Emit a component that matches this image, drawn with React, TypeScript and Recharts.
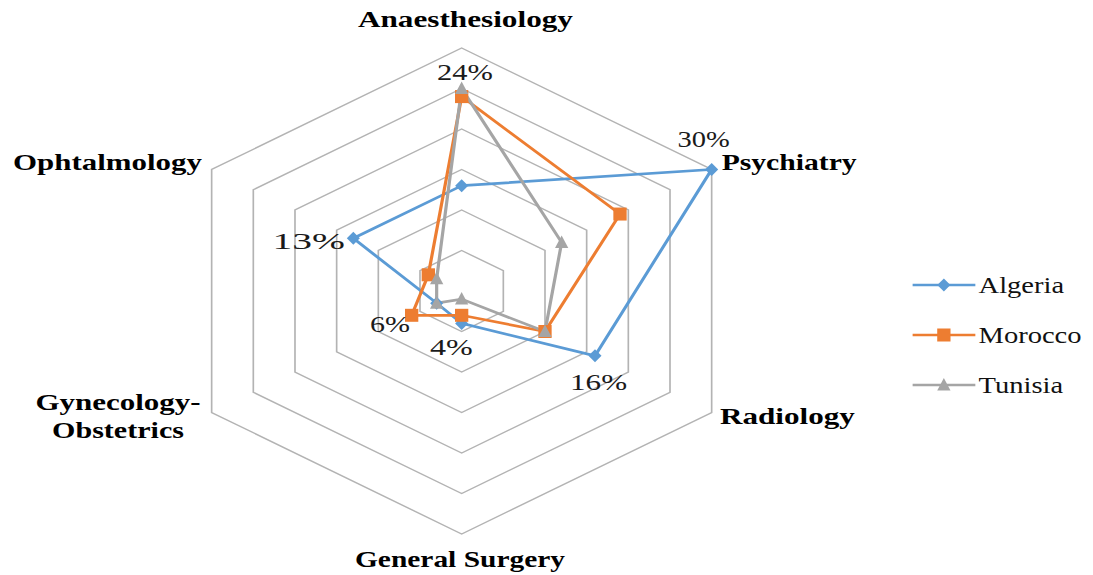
import React from 'react';
import { RadarChart, Radar, PolarGrid, PolarAngleAxis, PolarRadiusAxis, LabelList, Legend } from 'recharts';

// ---- data ----
const categories = ['Anaesthesiology', 'Psychiatry', 'Radiology', 'General Surgery', 'Gynecology-Obstetrics', 'Ophtalmology'];
const algeria = [13, 30, 16, 4, 3, 13];
const morocco = [24, 19, 10, 3, 6, 4];
const tunisia = [25, 12, 10, 1, 3, 3];
const seriesNames = ['Algeria', 'Morocco', 'Tunisia'];
const radiusDomain = [0, 30];
const labeledAlgeria = ['Psychiatry', 'Radiology', 'General Surgery', 'Ophtalmology'];
const labeledMorocco = ['Anaesthesiology', 'Gynecology-Obstetrics'];

const data = categories.map((c, i) => ({ cat: c, Algeria: algeria[i], Morocco: morocco[i], Tunisia: tunisia[i] }));

// ---- styles ----
const K = 1.188; // horizontal stretch of the reference picture
const FONT = "'Liberation Serif', 'Times New Roman', Times, serif";
const COLORS: Record<string, string> = { Algeria: '#5B9BD5', Morocco: '#ED7D31', Tunisia: '#A5A5A5' };
const SHAPES: Record<string, string> = { Algeria: 'diamond', Morocco: 'square', Tunisia: 'triangle' };

const TICK_LAYOUT: Record<string, { anchor: string; dx: number; lines: { dy: number; w: number }[] }> = {
  Anaesthesiology: { anchor: 'middle', dx: 3.2, lines: [{ dy: -12.8, w: 181 }] },
  Psychiatry: { anchor: 'start', dx: 1.5, lines: [{ dy: 4.5, w: 113.6 }] },
  Radiology: { anchor: 'start', dx: 0, lines: [{ dy: 7.5, w: 113.6 }] },
  'General Surgery': { anchor: 'middle', dx: -1.4, lines: [{ dy: 25, w: 176.8 }] },
  'Gynecology-Obstetrics': { anchor: 'middle', dx: -71.9, lines: [{ dy: -6.5, w: 139 }, { dy: 21.8, w: 111 }] },
  Ophtalmology: { anchor: 'end', dx: -1.2, lines: [{ dy: 4.5, w: 159 }] },
};

const LABEL_LAYOUT: Record<string, { anchor: string; dx: number; dy: number; w: number }> = {
  'Morocco|Anaesthesiology': { anchor: 'middle', dx: 2.8, dy: -16.6, w: 47 },
  'Algeria|Psychiatry': { anchor: 'middle', dx: -6.7, dy: -22.8, w: 44 },
  'Algeria|Ophtalmology': { anchor: 'end', dx: -7, dy: 10.6, w: 61 },
  'Morocco|Gynecology-Obstetrics': { anchor: 'end', dx: -1.4, dy: 16.7, w: 33.7 },
  'Algeria|General Surgery': { anchor: 'middle', dx: -8.6, dy: 31.6, w: 36 },
  'Algeria|Radiology': { anchor: 'middle', dx: 3, dy: 34, w: 48 },
};

function markerPath(shape: string, cx: number, cy: number): string {
  if (shape === 'diamond') return `M${cx},${cy - 6.5} L${cx + 5.5},${cy} L${cx},${cy + 6.5} L${cx - 5.5},${cy} Z`;
  if (shape === 'square') return `M${cx - 5.6},${cy - 6.5} H${cx + 5.6} V${cy + 6.5} H${cx - 5.6} Z`;
  return `M${cx},${cy - 7} L${cx + 5.6},${cy + 5.5} L${cx - 5.6},${cy + 5.5} Z`;
}

const makeDot = (name: string) => (p: any) => (
  <path key={`${name}-dot-${p.index}`} d={markerPath(SHAPES[name], p.cx, p.cy)} fill={COLORS[name]} />
);

const AngleTick = (props: any) => {
  const { x, y, payload } = props;
  const L = TICK_LAYOUT[payload.value];
  if (!L) return null;
  const parts: string[] = String(payload.value).split(/(?<=-)/);
  return (
    <g>
      {parts.map((t, i) => (
        <text
          key={i}
          x={x + L.dx}
          y={y + L.lines[i].dy}
          textAnchor={L.anchor as any}
          style={{ fontFamily: FONT, fontWeight: 'bold', fontSize: 24 }}
          fill="#000"
          textLength={L.lines[i].w}
          lengthAdjust="spacingAndGlyphs"
        >
          {t}
        </text>
      ))}
    </g>
  );
};

const makeLabel = (name: string, labeled: string[]) => (props: any) => {
  const { x, y, value, index } = props;
  const cat = categories[index];
  if (!labeled.includes(cat)) return null;
  const L = LABEL_LAYOUT[`${name}|${cat}`];
  if (!L) return null;
  return (
    <text
      key={`${name}-lbl-${index}`}
      x={x + L.dx}
      y={y + L.dy}
      textAnchor={L.anchor as any}
      style={{ fontFamily: FONT, fontSize: 24 }}
      fill="#1a1a1a"
      textLength={L.w}
      lengthAdjust="spacingAndGlyphs"
    >
      {`${value}%`}
    </text>
  );
};

const renderLegend = (props: any) => {
  const { payload } = props;
  return (
    <div style={{ fontFamily: FONT }}>
      {(payload || []).map((e: any, i: number) => {
        const name = String(e.value);
        const color = COLORS[name];
        return (
          <div key={i} style={{ display: 'flex', alignItems: 'center', height: 50 }}>
            <svg width={55} height={20} style={{ display: 'block' }}>
              <line x1={0} y1={10} x2={53} y2={10} stroke={color} strokeWidth={2.6} />
              <path d={markerPath(SHAPES[name], 26.5, 10)} fill={color} />
            </svg>
            <span style={{ fontFamily: FONT, fontSize: 24, color: '#111', marginLeft: 1, lineHeight: '24px' }}>{name}</span>
          </div>
        );
      })}
    </div>
  );
};

export default function App() {
  return (
    <div
      style={{
        width: 1093,
        height: 575,
        marginTop: -8,
        marginLeft: -8,
        position: 'relative',
        overflow: 'hidden',
        background: '#fff',
        fontFamily: FONT,
      }}
    >
      <div style={{ width: 920, height: 575, transform: `scaleX(${K})`, transformOrigin: '0 0' }}>
        <RadarChart
          width={920}
          height={575}
          cx={388.6}
          cy={291}
          outerRadius={243}
          data={data}
          margin={{ top: 0, right: 0, bottom: 0, left: 0 }}
          style={{ fontFamily: FONT }}
        >
          <PolarGrid gridType="polygon" radialLines={false} stroke="#b3b3b3" strokeWidth={1.4} />
          <PolarAngleAxis dataKey="cat" tickLine={false} axisLine={false} tick={(p: any) => <AngleTick {...p} />} />
          <PolarRadiusAxis domain={radiusDomain} tickCount={7} tick={false} axisLine={false} />
          <Radar
            name={seriesNames[0]}
            dataKey="Algeria"
            stroke={COLORS.Algeria}
            strokeWidth={2.7}
            fill="none"
            fillOpacity={0}
            dot={makeDot('Algeria')}
            isAnimationActive={false}
          >
            <LabelList dataKey="Algeria" content={makeLabel('Algeria', labeledAlgeria)} />
          </Radar>
          <Radar
            name={seriesNames[1]}
            dataKey="Morocco"
            stroke={COLORS.Morocco}
            strokeWidth={2.7}
            fill="none"
            fillOpacity={0}
            dot={makeDot('Morocco')}
            isAnimationActive={false}
          >
            <LabelList dataKey="Morocco" content={makeLabel('Morocco', labeledMorocco)} />
          </Radar>
          <Radar
            name={seriesNames[2]}
            dataKey="Tunisia"
            stroke={COLORS.Tunisia}
            strokeWidth={2.7}
            fill="none"
            fillOpacity={0}
            dot={makeDot('Tunisia')}
            isAnimationActive={false}
          />
          <Legend
            layout="vertical"
            align="right"
            verticalAlign="top"
            content={renderLegend}
            wrapperStyle={{ left: 767.7, top: 260, right: 'auto', bottom: 'auto', width: 160 }}
          />
        </RadarChart>
      </div>
    </div>
  );
}
